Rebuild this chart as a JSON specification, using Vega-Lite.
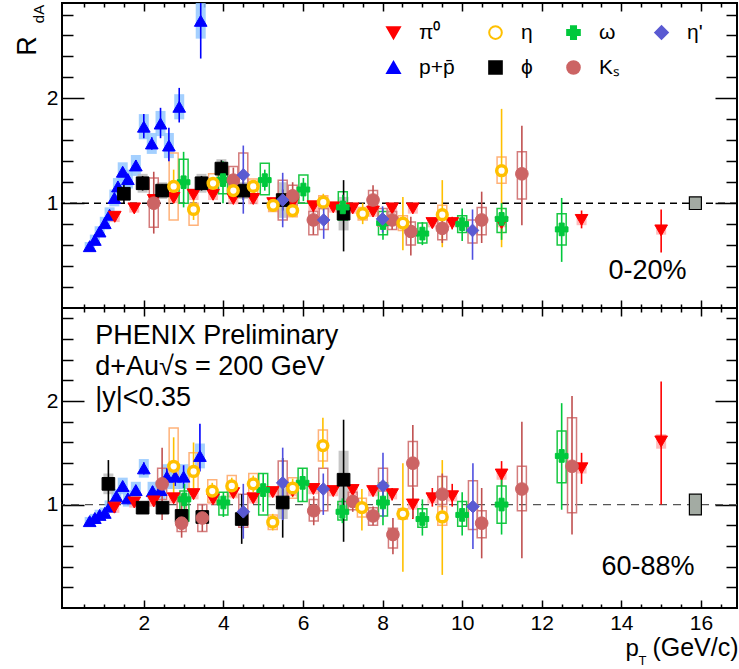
{
  "$schema": "https://vega.github.io/schema/vega-lite/v6.json",
  "padding": {"left": 0, "top": 1, "right": 0, "bottom": 0},
  "autosize": {"type": "pad"},
  "spacing": 0,
  "bounds": "flush",
  "config": {
    "view": {"stroke": "#000000", "strokeWidth": 2},
    "axis": {"grid": false, "domain": false, "labelFont": "Liberation Sans", "titleFont": "Liberation Sans", "labelFontSize": 21, "titleFontWeight": "normal", "tickColor": "#000000", "tickWidth": 1.5, "labelColor": "#000000", "titleColor": "#000000", "labelFlush": false, "labelOverlap": false},
    "text": {"font": "Liberation Sans", "color": "#000000"}
  },
  "resolve": {"scale": {"fill": "independent", "stroke": "independent", "shape": "independent"}, "legend": {"fill": "independent", "stroke": "independent", "shape": "independent"}},
  "datasets": {
    "normtop": [{"x": 15.86, "lo": 0.94, "hi": 1.06}],
    "normbot": [{"x": 15.86, "lo": 0.9, "hi": 1.1}],
    "top": [
      {"sp": "p+p\u0304", "x": 0.64, "y": 0.59, "lo": 0.57, "hi": 0.61, "slo": 0.55, "shi": 0.63},
      {"sp": "p+p\u0304", "x": 0.77, "y": 0.65, "lo": 0.63, "hi": 0.67, "slo": 0.6, "shi": 0.7},
      {"sp": "p+p\u0304", "x": 0.89, "y": 0.73, "lo": 0.71, "hi": 0.75, "slo": 0.68, "shi": 0.78},
      {"sp": "p+p\u0304", "x": 1.02, "y": 0.81, "lo": 0.79, "hi": 0.83, "slo": 0.75, "shi": 0.87},
      {"sp": "p+p\u0304", "x": 1.14, "y": 0.89, "lo": 0.87, "hi": 0.91, "slo": 0.82, "shi": 0.96},
      {"sp": "p+p\u0304", "x": 1.26, "y": 1.05, "lo": 1.02, "hi": 1.08, "slo": 0.97, "shi": 1.13},
      {"sp": "p+p\u0304", "x": 1.35, "y": 1.16, "lo": 1.13, "hi": 1.19, "slo": 1.08, "shi": 1.24},
      {"sp": "p+p\u0304", "x": 1.47, "y": 1.3, "lo": 1.27, "hi": 1.33, "slo": 1.21, "shi": 1.39},
      {"sp": "p+p\u0304", "x": 1.6, "y": 1.23, "lo": 1.19, "hi": 1.27, "slo": 1.14, "shi": 1.32},
      {"sp": "p+p\u0304", "x": 1.8, "y": 1.36, "lo": 1.31, "hi": 1.41, "slo": 1.26, "shi": 1.46},
      {"sp": "p+p\u0304", "x": 2.0, "y": 1.73, "lo": 1.62, "hi": 1.85, "slo": 1.61, "shi": 1.85},
      {"sp": "p+p\u0304", "x": 2.2, "y": 1.57, "lo": 1.51, "hi": 1.63, "slo": 1.47, "shi": 1.67},
      {"sp": "p+p\u0304", "x": 2.42, "y": 1.76, "lo": 1.62, "hi": 1.91, "slo": 1.64, "shi": 1.88},
      {"sp": "p+p\u0304", "x": 2.63, "y": 1.55, "lo": 1.4, "hi": 1.72, "slo": 1.43, "shi": 1.67},
      {"sp": "p+p\u0304", "x": 2.89, "y": 1.92, "lo": 1.77, "hi": 2.1, "slo": 1.8, "shi": 2.04},
      {"sp": "p+p\u0304", "x": 3.43, "y": 2.74, "lo": 2.38, "hi": 3.1, "slo": 2.57, "shi": 2.93},
      {"sp": "\u03c0\u2070", "x": 1.27, "y": 0.87, "lo": 0.83, "hi": 0.91, "slo": 0.82, "shi": 0.92},
      {"sp": "\u03c0\u2070", "x": 1.76, "y": 0.95, "lo": 0.94, "hi": 0.96, "slo": 0.91, "shi": 0.99},
      {"sp": "\u03c0\u2070", "x": 2.25, "y": 1.03, "lo": 1.02, "hi": 1.04, "slo": 0.98, "shi": 1.08},
      {"sp": "\u03c0\u2070", "x": 2.75, "y": 1.05, "lo": 1.04, "hi": 1.06, "slo": 1.0, "shi": 1.1},
      {"sp": "\u03c0\u2070", "x": 3.25, "y": 1.08, "lo": 1.07, "hi": 1.09, "slo": 1.03, "shi": 1.13},
      {"sp": "\u03c0\u2070", "x": 3.74, "y": 1.08, "lo": 1.07, "hi": 1.09, "slo": 1.03, "shi": 1.13},
      {"sp": "\u03c0\u2070", "x": 4.25, "y": 1.04, "lo": 1.03, "hi": 1.05, "slo": 0.99, "shi": 1.09},
      {"sp": "\u03c0\u2070", "x": 4.75, "y": 1.04, "lo": 1.03, "hi": 1.05, "slo": 0.99, "shi": 1.09},
      {"sp": "\u03c0\u2070", "x": 5.25, "y": 1.0, "lo": 0.99, "hi": 1.01, "slo": 0.95, "shi": 1.05},
      {"sp": "\u03c0\u2070", "x": 5.74, "y": 1.0, "lo": 0.98, "hi": 1.02, "slo": 0.95, "shi": 1.05},
      {"sp": "\u03c0\u2070", "x": 6.26, "y": 0.97, "lo": 0.95, "hi": 0.99, "slo": 0.92, "shi": 1.02},
      {"sp": "\u03c0\u2070", "x": 6.76, "y": 0.96, "lo": 0.94, "hi": 0.98, "slo": 0.91, "shi": 1.01},
      {"sp": "\u03c0\u2070", "x": 7.25, "y": 0.95, "lo": 0.93, "hi": 0.97, "slo": 0.9, "shi": 1.0},
      {"sp": "\u03c0\u2070", "x": 7.76, "y": 0.92, "lo": 0.89, "hi": 0.95, "slo": 0.87, "shi": 0.97},
      {"sp": "\u03c0\u2070", "x": 8.24, "y": 0.95, "lo": 0.92, "hi": 0.98, "slo": 0.9, "shi": 1.0},
      {"sp": "\u03c0\u2070", "x": 8.76, "y": 0.95, "lo": 0.91, "hi": 0.99, "slo": 0.9, "shi": 1.0},
      {"sp": "\u03c0\u2070", "x": 9.25, "y": 0.81, "lo": 0.76, "hi": 0.86, "slo": 0.77, "shi": 0.85},
      {"sp": "\u03c0\u2070", "x": 9.75, "y": 0.81, "lo": 0.75, "hi": 0.87, "slo": 0.77, "shi": 0.85},
      {"sp": "\u03c0\u2070", "x": 10.99, "y": 0.81, "lo": 0.73, "hi": 0.89, "slo": 0.77, "shi": 0.85},
      {"sp": "\u03c0\u2070", "x": 13.0, "y": 0.84, "lo": 0.76, "hi": 0.93, "slo": 0.79, "shi": 0.89},
      {"sp": "\u03c0\u2070", "x": 15.0, "y": 0.74, "lo": 0.53, "hi": 0.94, "slo": 0.7, "shi": 0.78},
      {"sp": "\u03d5", "x": 1.5, "y": 1.09, "lo": 1.0, "hi": 1.18, "slo": 1.05, "shi": 1.13},
      {"sp": "\u03d5", "x": 1.97, "y": 1.19, "lo": 1.12, "hi": 1.26, "slo": 1.1, "shi": 1.28},
      {"sp": "\u03d5", "x": 2.46, "y": 1.12, "lo": 1.06, "hi": 1.18, "slo": 1.04, "shi": 1.2},
      {"sp": "\u03d5", "x": 3.45, "y": 1.19, "lo": 1.12, "hi": 1.26, "slo": 1.1, "shi": 1.28},
      {"sp": "\u03d5", "x": 3.95, "y": 1.33, "lo": 1.25, "hi": 1.41, "slo": 1.24, "shi": 1.42},
      {"sp": "\u03d5", "x": 4.5, "y": 1.12, "lo": 1.03, "hi": 1.21, "slo": 1.04, "shi": 1.2},
      {"sp": "\u03d5", "x": 5.49, "y": 1.03, "lo": 0.93, "hi": 1.13, "slo": 0.86, "shi": 1.2},
      {"sp": "\u03d5", "x": 7.02, "y": 0.9, "lo": 0.54, "hi": 1.22, "slo": 0.74, "shi": 1.06},
      {"sp": "\u03b7", "x": 2.75, "y": 1.16, "lo": 1.0, "hi": 1.32, "slo": 0.84, "shi": 1.48},
      {"sp": "\u03b7", "x": 3.25, "y": 0.94, "lo": 0.84, "hi": 1.04, "slo": 0.79, "shi": 1.0},
      {"sp": "\u03b7", "x": 3.74, "y": 1.19, "lo": 1.13, "hi": 1.25, "slo": 1.1, "shi": 1.28},
      {"sp": "\u03b7", "x": 4.25, "y": 1.12, "lo": 1.07, "hi": 1.17, "slo": 1.05, "shi": 1.19},
      {"sp": "\u03b7", "x": 4.75, "y": 1.16, "lo": 1.11, "hi": 1.21, "slo": 1.09, "shi": 1.23},
      {"sp": "\u03b7", "x": 5.25, "y": 0.98, "lo": 0.92, "hi": 1.04, "slo": 0.92, "shi": 1.04},
      {"sp": "\u03b7", "x": 5.74, "y": 0.93, "lo": 0.87, "hi": 0.99, "slo": 0.87, "shi": 0.99},
      {"sp": "\u03b7", "x": 6.51, "y": 1.01, "lo": 0.93, "hi": 1.09, "slo": 0.95, "shi": 1.07},
      {"sp": "\u03b7", "x": 7.5, "y": 0.9, "lo": 0.8, "hi": 1.0, "slo": 0.84, "shi": 0.96},
      {"sp": "\u03b7", "x": 8.51, "y": 0.81, "lo": 0.55, "hi": 1.06, "slo": 0.74, "shi": 0.88},
      {"sp": "\u03b7", "x": 9.5, "y": 0.89, "lo": 0.58, "hi": 1.22, "slo": 0.8, "shi": 0.98},
      {"sp": "\u03b7", "x": 10.99, "y": 1.31, "lo": 0.58, "hi": 1.9, "slo": 1.19, "shi": 1.44},
      {"sp": "\u03c9", "x": 3.0, "y": 1.2, "lo": 0.96, "hi": 1.49, "slo": 1.0, "shi": 1.42},
      {"sp": "\u03c9", "x": 3.99, "y": 1.22, "lo": 1.0, "hi": 1.4, "slo": 1.09, "shi": 1.35},
      {"sp": "\u03c9", "x": 5.04, "y": 1.22, "lo": 1.12, "hi": 1.32, "slo": 1.08, "shi": 1.38},
      {"sp": "\u03c9", "x": 6.01, "y": 1.13, "lo": 1.02, "hi": 1.24, "slo": 1.0, "shi": 1.27},
      {"sp": "\u03c9", "x": 7.0, "y": 0.96, "lo": 0.84, "hi": 1.08, "slo": 0.84, "shi": 1.11},
      {"sp": "\u03c9", "x": 8.01, "y": 0.81, "lo": 0.65, "hi": 0.95, "slo": 0.7, "shi": 0.92},
      {"sp": "\u03c9", "x": 9.0, "y": 0.71, "lo": 0.6, "hi": 0.82, "slo": 0.62, "shi": 0.81},
      {"sp": "\u03c9", "x": 10.0, "y": 0.8, "lo": 0.64, "hi": 0.95, "slo": 0.72, "shi": 0.88},
      {"sp": "\u03c9", "x": 10.99, "y": 0.85, "lo": 0.65, "hi": 1.0, "slo": 0.72, "shi": 0.95},
      {"sp": "\u03c9", "x": 12.5, "y": 0.75, "lo": 0.44, "hi": 1.05, "slo": 0.6, "shi": 0.9},
      {"sp": "K\u209b", "x": 2.25, "y": 1.0, "lo": 0.71, "hi": 1.3, "slo": 0.77, "shi": 1.24},
      {"sp": "K\u209b", "x": 4.25, "y": 1.22, "lo": 1.1, "hi": 1.34, "slo": 1.12, "shi": 1.35},
      {"sp": "K\u209b", "x": 5.74, "y": 1.07, "lo": 0.95, "hi": 1.2, "slo": 0.98, "shi": 1.17},
      {"sp": "K\u209b", "x": 6.26, "y": 0.84, "lo": 0.7, "hi": 0.95, "slo": 0.7, "shi": 0.92},
      {"sp": "K\u209b", "x": 7.76, "y": 1.03, "lo": 0.92, "hi": 1.17, "slo": 0.95, "shi": 1.12},
      {"sp": "K\u209b", "x": 8.24, "y": 0.84, "lo": 0.75, "hi": 0.95, "slo": 0.75, "shi": 0.92},
      {"sp": "K\u209b", "x": 8.71, "y": 0.73, "lo": 0.5, "hi": 0.87, "slo": 0.6, "shi": 0.82},
      {"sp": "K\u209b", "x": 9.5, "y": 0.76, "lo": 0.62, "hi": 0.9, "slo": 0.65, "shi": 0.86},
      {"sp": "K\u209b", "x": 10.49, "y": 0.84, "lo": 0.62, "hi": 1.11, "slo": 0.7, "shi": 0.96},
      {"sp": "K\u209b", "x": 11.5, "y": 1.28, "lo": 0.79, "hi": 1.74, "slo": 1.04, "shi": 1.49},
      {"sp": "\u03b7'", "x": 4.5, "y": 1.27, "lo": 0.9, "hi": 1.55, "slo": 1.12, "shi": 1.48},
      {"sp": "\u03b7'", "x": 5.49, "y": 1.03, "lo": 0.77, "hi": 1.29, "slo": 0.84, "shi": 1.22},
      {"sp": "\u03b7'", "x": 6.52, "y": 0.84, "lo": 0.66, "hi": 0.97, "slo": 0.75, "shi": 0.95},
      {"sp": "\u03b7'", "x": 8.0, "y": 0.85, "lo": 0.72, "hi": 0.97, "slo": 0.78, "shi": 0.95},
      {"sp": "\u03b7'", "x": 10.26, "y": 0.74, "lo": 0.46, "hi": 0.94, "slo": 0.62, "shi": 0.84}
    ],
    "bot": [
      {"sp": "p+p\u0304", "x": 0.64, "y": 0.84, "lo": 0.83, "hi": 0.85, "slo": 0.8, "shi": 0.88},
      {"sp": "p+p\u0304", "x": 0.77, "y": 0.87, "lo": 0.86, "hi": 0.88, "slo": 0.83, "shi": 0.91},
      {"sp": "p+p\u0304", "x": 0.89, "y": 0.9, "lo": 0.89, "hi": 0.91, "slo": 0.85, "shi": 0.95},
      {"sp": "p+p\u0304", "x": 1.02, "y": 0.92, "lo": 0.91, "hi": 0.93, "slo": 0.87, "shi": 0.97},
      {"sp": "p+p\u0304", "x": 1.14, "y": 0.98, "lo": 0.97, "hi": 0.99, "slo": 0.92, "shi": 1.04},
      {"sp": "p+p\u0304", "x": 1.31, "y": 1.08, "lo": 1.06, "hi": 1.1, "slo": 1.01, "shi": 1.15},
      {"sp": "p+p\u0304", "x": 1.47, "y": 1.18, "lo": 1.15, "hi": 1.21, "slo": 1.1, "shi": 1.26},
      {"sp": "p+p\u0304", "x": 1.6, "y": 1.06, "lo": 1.03, "hi": 1.09, "slo": 0.98, "shi": 1.14},
      {"sp": "p+p\u0304", "x": 1.8, "y": 1.14, "lo": 1.1, "hi": 1.18, "slo": 1.06, "shi": 1.22},
      {"sp": "p+p\u0304", "x": 2.0, "y": 1.35, "lo": 1.29, "hi": 1.41, "slo": 1.26, "shi": 1.44},
      {"sp": "p+p\u0304", "x": 2.22, "y": 1.13, "lo": 1.08, "hi": 1.18, "slo": 1.04, "shi": 1.22},
      {"sp": "p+p\u0304", "x": 2.42, "y": 1.14, "lo": 1.08, "hi": 1.2, "slo": 1.05, "shi": 1.23},
      {"sp": "p+p\u0304", "x": 2.58, "y": 1.27, "lo": 1.19, "hi": 1.35, "slo": 1.15, "shi": 1.39},
      {"sp": "p+p\u0304", "x": 2.79, "y": 1.27, "lo": 1.18, "hi": 1.36, "slo": 1.15, "shi": 1.39},
      {"sp": "p+p\u0304", "x": 3.0, "y": 1.27, "lo": 1.16, "hi": 1.38, "slo": 1.15, "shi": 1.39},
      {"sp": "p+p\u0304", "x": 3.41, "y": 1.47, "lo": 1.32, "hi": 1.78, "slo": 1.35, "shi": 1.59},
      {"sp": "\u03c0\u2070", "x": 1.26, "y": 0.97, "lo": 0.96, "hi": 0.98, "slo": 0.92, "shi": 1.02},
      {"sp": "\u03c0\u2070", "x": 1.76, "y": 1.02, "lo": 1.01, "hi": 1.03, "slo": 0.97, "shi": 1.07},
      {"sp": "\u03c0\u2070", "x": 2.25, "y": 1.03, "lo": 1.02, "hi": 1.04, "slo": 0.98, "shi": 1.08},
      {"sp": "\u03c0\u2070", "x": 2.75, "y": 1.06, "lo": 1.05, "hi": 1.07, "slo": 1.01, "shi": 1.11},
      {"sp": "\u03c0\u2070", "x": 3.25, "y": 1.1, "lo": 1.09, "hi": 1.11, "slo": 1.05, "shi": 1.15},
      {"sp": "\u03c0\u2070", "x": 3.74, "y": 1.05, "lo": 1.04, "hi": 1.06, "slo": 1.0, "shi": 1.1},
      {"sp": "\u03c0\u2070", "x": 4.25, "y": 1.11, "lo": 1.09, "hi": 1.13, "slo": 1.06, "shi": 1.16},
      {"sp": "\u03c0\u2070", "x": 4.75, "y": 1.06, "lo": 1.04, "hi": 1.08, "slo": 1.01, "shi": 1.11},
      {"sp": "\u03c0\u2070", "x": 5.24, "y": 1.12, "lo": 1.1, "hi": 1.14, "slo": 1.07, "shi": 1.17},
      {"sp": "\u03c0\u2070", "x": 5.74, "y": 1.13, "lo": 1.11, "hi": 1.15, "slo": 1.08, "shi": 1.18},
      {"sp": "\u03c0\u2070", "x": 6.26, "y": 1.15, "lo": 1.12, "hi": 1.18, "slo": 1.1, "shi": 1.2},
      {"sp": "\u03c0\u2070", "x": 6.76, "y": 1.13, "lo": 1.1, "hi": 1.16, "slo": 1.08, "shi": 1.18},
      {"sp": "\u03c0\u2070", "x": 7.25, "y": 1.14, "lo": 1.1, "hi": 1.18, "slo": 1.09, "shi": 1.19},
      {"sp": "\u03c0\u2070", "x": 7.76, "y": 1.13, "lo": 1.08, "hi": 1.18, "slo": 1.08, "shi": 1.18},
      {"sp": "\u03c0\u2070", "x": 8.24, "y": 1.1, "lo": 1.04, "hi": 1.16, "slo": 1.05, "shi": 1.15},
      {"sp": "\u03c0\u2070", "x": 8.76, "y": 1.0, "lo": 0.86, "hi": 1.16, "slo": 0.95, "shi": 1.05},
      {"sp": "\u03c0\u2070", "x": 9.25, "y": 1.06, "lo": 0.98, "hi": 1.16, "slo": 1.01, "shi": 1.11},
      {"sp": "\u03c0\u2070", "x": 9.75, "y": 1.08, "lo": 0.98, "hi": 1.2, "slo": 1.03, "shi": 1.13},
      {"sp": "\u03c0\u2070", "x": 10.99, "y": 1.29, "lo": 1.18, "hi": 1.42, "slo": 1.24, "shi": 1.34},
      {"sp": "\u03c0\u2070", "x": 13.0, "y": 1.35, "lo": 1.2, "hi": 1.5, "slo": 1.3, "shi": 1.4},
      {"sp": "\u03c0\u2070", "x": 15.0, "y": 1.61, "lo": 1.0, "hi": 2.19, "slo": 1.54, "shi": 1.68},
      {"sp": "\u03d5", "x": 1.11, "y": 1.2, "lo": 0.98, "hi": 1.43, "slo": 1.1, "shi": 1.3},
      {"sp": "\u03d5", "x": 1.97, "y": 0.97, "lo": 0.93, "hi": 1.01, "slo": 0.92, "shi": 1.02},
      {"sp": "\u03d5", "x": 2.47, "y": 0.97, "lo": 0.92, "hi": 1.02, "slo": 0.92, "shi": 1.02},
      {"sp": "\u03d5", "x": 2.95, "y": 0.89, "lo": 0.83, "hi": 0.95, "slo": 0.83, "shi": 0.95},
      {"sp": "\u03d5", "x": 3.47, "y": 0.88, "lo": 0.82, "hi": 0.94, "slo": 0.82, "shi": 0.94},
      {"sp": "\u03d5", "x": 4.46, "y": 0.86, "lo": 0.62, "hi": 1.1, "slo": 0.8, "shi": 0.92},
      {"sp": "\u03d5", "x": 5.49, "y": 1.02, "lo": 0.68, "hi": 1.45, "slo": 0.86, "shi": 1.18},
      {"sp": "\u03d5", "x": 7.02, "y": 1.24, "lo": 0.64, "hi": 1.82, "slo": 0.95, "shi": 1.52},
      {"sp": "\u03b7", "x": 2.75, "y": 1.37, "lo": 1.1, "hi": 1.65, "slo": 1.26, "shi": 1.74},
      {"sp": "\u03b7", "x": 3.25, "y": 1.32, "lo": 1.1, "hi": 1.6, "slo": 1.15, "shi": 1.5},
      {"sp": "\u03b7", "x": 3.72, "y": 1.13, "lo": 1.05, "hi": 1.21, "slo": 1.02, "shi": 1.24},
      {"sp": "\u03b7", "x": 4.21, "y": 1.18, "lo": 1.1, "hi": 1.26, "slo": 1.08, "shi": 1.28},
      {"sp": "\u03b7", "x": 4.75, "y": 1.2, "lo": 1.12, "hi": 1.28, "slo": 1.1, "shi": 1.3},
      {"sp": "\u03b7", "x": 5.24, "y": 0.83, "lo": 0.75, "hi": 0.91, "slo": 0.76, "shi": 0.9},
      {"sp": "\u03b7", "x": 5.74, "y": 1.16, "lo": 1.07, "hi": 1.25, "slo": 1.06, "shi": 1.26},
      {"sp": "\u03b7", "x": 6.5, "y": 1.57, "lo": 1.35, "hi": 1.84, "slo": 1.42, "shi": 1.72},
      {"sp": "\u03b7", "x": 7.48, "y": 0.97, "lo": 0.75, "hi": 1.15, "slo": 0.88, "shi": 1.06},
      {"sp": "\u03b7", "x": 8.51, "y": 0.91, "lo": 0.35, "hi": 1.4, "slo": 0.86, "shi": 0.96},
      {"sp": "\u03b7", "x": 9.5, "y": 0.88, "lo": 0.32, "hi": 1.43, "slo": 0.8, "shi": 0.98},
      {"sp": "\u03c9", "x": 3.02, "y": 1.05, "lo": 0.86, "hi": 1.2, "slo": 0.84, "shi": 1.13},
      {"sp": "\u03c9", "x": 4.0, "y": 1.02, "lo": 0.88, "hi": 1.12, "slo": 0.9, "shi": 1.12},
      {"sp": "\u03c9", "x": 5.0, "y": 1.14, "lo": 0.93, "hi": 1.3, "slo": 0.9, "shi": 1.3},
      {"sp": "\u03c9", "x": 5.99, "y": 1.21, "lo": 1.03, "hi": 1.35, "slo": 1.03, "shi": 1.35},
      {"sp": "\u03c9", "x": 6.99, "y": 0.93, "lo": 0.82, "hi": 1.06, "slo": 0.85, "shi": 1.03},
      {"sp": "\u03c9", "x": 8.01, "y": 1.02, "lo": 0.8, "hi": 1.22, "slo": 0.89, "shi": 1.21},
      {"sp": "\u03c9", "x": 9.0, "y": 0.86, "lo": 0.7, "hi": 1.05, "slo": 0.78, "shi": 0.96},
      {"sp": "\u03c9", "x": 10.0, "y": 0.9, "lo": 0.7, "hi": 1.12, "slo": 0.79, "shi": 1.03},
      {"sp": "\u03c9", "x": 10.99, "y": 1.0, "lo": 0.71, "hi": 1.32, "slo": 0.82, "shi": 1.18},
      {"sp": "\u03c9", "x": 12.5, "y": 1.47, "lo": 0.95, "hi": 1.98, "slo": 1.21, "shi": 1.71},
      {"sp": "K\u209b", "x": 2.46, "y": 1.2, "lo": 0.85, "hi": 1.55, "slo": 1.05, "shi": 1.35},
      {"sp": "K\u209b", "x": 2.95, "y": 0.82, "lo": 0.68, "hi": 1.1, "slo": 0.74, "shi": 1.06},
      {"sp": "K\u209b", "x": 3.47, "y": 0.87, "lo": 0.74, "hi": 1.0, "slo": 0.74, "shi": 1.0},
      {"sp": "K\u209b", "x": 6.27, "y": 0.94, "lo": 0.8, "hi": 1.08, "slo": 0.84, "shi": 1.05},
      {"sp": "K\u209b", "x": 7.25, "y": 1.03, "lo": 0.93, "hi": 1.13, "slo": 0.95, "shi": 1.12},
      {"sp": "K\u209b", "x": 7.76, "y": 0.89, "lo": 0.8, "hi": 0.98, "slo": 0.8, "shi": 0.97},
      {"sp": "K\u209b", "x": 8.26, "y": 0.71, "lo": 0.52, "hi": 0.87, "slo": 0.58, "shi": 0.77},
      {"sp": "K\u209b", "x": 8.76, "y": 1.4, "lo": 0.87, "hi": 1.77, "slo": 1.18, "shi": 1.61},
      {"sp": "K\u209b", "x": 9.5, "y": 1.1, "lo": 0.95, "hi": 1.3, "slo": 1.0, "shi": 1.27},
      {"sp": "K\u209b", "x": 10.49, "y": 0.82, "lo": 0.48, "hi": 1.16, "slo": 0.68, "shi": 0.94},
      {"sp": "K\u209b", "x": 11.5, "y": 1.15, "lo": 0.48, "hi": 1.8, "slo": 0.94, "shi": 1.37},
      {"sp": "K\u209b", "x": 12.76, "y": 1.37, "lo": 0.71, "hi": 2.05, "slo": 0.92, "shi": 1.84},
      {"sp": "\u03b7'", "x": 4.5, "y": 0.93, "lo": 0.67, "hi": 1.2, "slo": 0.78, "shi": 1.1},
      {"sp": "\u03b7'", "x": 5.49, "y": 1.21, "lo": 0.85, "hi": 1.55, "slo": 1.02, "shi": 1.42},
      {"sp": "\u03b7'", "x": 6.51, "y": 1.15, "lo": 0.9, "hi": 1.3, "slo": 0.94, "shi": 1.35},
      {"sp": "\u03b7'", "x": 8.01, "y": 1.18, "lo": 0.88, "hi": 1.5, "slo": 1.13, "shi": 1.35},
      {"sp": "\u03b7'", "x": 10.27, "y": 0.98, "lo": 0.57, "hi": 1.4, "slo": 0.76, "shi": 1.23}
    ]
  },
  "vconcat": [
    {
      "width": 675,
      "height": 305,
      "resolve": {"scale": {"fill": "independent", "stroke": "independent", "shape": "independent"}, "axis": {"x": "independent", "y": "independent"}},
      "layer": [
        {
          "data": {"values": [{}]},
          "mark": {"type": "rule", "strokeDash": [7, 5], "strokeWidth": 1.6, "color": "#000000"},
          "encoding": {"y": {"datum": 1, "type": "quantitative", "axis": null}}
        },
        {
          "data": {"name": "normtop"},
          "mark": {"type": "bar", "width": 12, "fill": "#a3aba3", "stroke": "#000000", "strokeWidth": 1.2},
          "encoding": {
            "x": {"field": "x", "type": "quantitative", "scale": {"domain": [0.07, 16.78], "nice": false, "zero": false}, "axis": {"orient": "bottom", "values": [2, 4, 6, 8, 10, 12, 14, 16], "tickSize": -8, "labels": false, "title": null}},
            "y": {"field": "lo", "type": "quantitative", "scale": {"domain": [0, 2.91], "nice": false, "zero": false}, "axis": {"orient": "left", "values": [1, 2], "tickSize": -22, "labels": false, "title": null}},
            "y2": {"field": "hi"}
          }
        },
        {
          "data": {"name": "top"},
          "transform": [{"filter": {"field": "sp", "oneOf": ["\u03c0\u2070", "p+p\u0304", "\u03d5"]}}],
          "mark": {"type": "bar", "width": 10, "clip": true, "opacity": 0.85},
          "encoding": {
            "x": {"field": "x", "type": "quantitative", "scale": {"domain": [0.07, 16.78], "nice": false, "zero": false}, "axis": {"orient": "bottom", "values": [0.5, 1, 1.5, 2.5, 3, 3.5, 4.5, 5, 5.5, 6.5, 7, 7.5, 8.5, 9, 9.5, 10.5, 11, 11.5, 12.5, 13, 13.5, 14.5, 15, 15.5, 16.5], "tickSize": -4, "labels": false, "title": null}},
            "y": {"field": "slo", "type": "quantitative", "scale": {"domain": [0, 2.91], "nice": false, "zero": false}, "axis": {"orient": "left", "values": [0.2, 0.4, 0.6, 0.8, 1.2, 1.4, 1.6, 1.8, 2.2, 2.4, 2.6, 2.8], "tickSize": -11, "labels": false, "title": null}},
            "y2": {"field": "shi"},
            "fill": {"field": "sp", "type": "nominal", "scale": {"domain": ["\u03c0\u2070", "p+p\u0304", "\u03d5"], "range": ["#ffb0b0", "#94c8ff", "#bdbdbd"]}, "legend": null}
          }
        },
        {
          "data": {"name": "top"},
          "transform": [{"filter": {"field": "sp", "oneOf": ["\u03b7", "\u03c9", "K\u209b", "\u03b7'"]}}],
          "mark": {"type": "bar", "width": 9, "clip": true, "fillOpacity": 0, "strokeWidth": 1.5},
          "encoding": {
            "x": {"field": "x", "type": "quantitative", "scale": {"domain": [0.07, 16.78], "nice": false, "zero": false}, "axis": {"orient": "top", "values": [2, 4, 6, 8, 10, 12, 14, 16], "tickSize": -8, "labels": false, "title": null}},
            "y": {"field": "slo", "type": "quantitative", "scale": {"domain": [0, 2.91], "nice": false, "zero": false}, "axis": {"orient": "right", "values": [1, 2], "tickSize": -22, "labels": false, "title": null}},
            "y2": {"field": "shi"},
            "stroke": {"field": "sp", "type": "nominal", "scale": {"domain": ["\u03b7", "\u03c9", "K\u209b", "\u03b7'"], "range": ["#ffb27a", "#19c843", "#d47c7c", "#d47c7c"]}, "legend": null}
          }
        },
        {
          "data": {"name": "top"},
          "mark": {"type": "rule", "clip": true, "strokeWidth": 1.6},
          "encoding": {
            "x": {"field": "x", "type": "quantitative", "scale": {"domain": [0.07, 16.78], "nice": false, "zero": false}, "axis": {"orient": "top", "values": [0.5, 1, 1.5, 2.5, 3, 3.5, 4.5, 5, 5.5, 6.5, 7, 7.5, 8.5, 9, 9.5, 10.5, 11, 11.5, 12.5, 13, 13.5, 14.5, 15, 15.5, 16.5], "tickSize": -4, "labels": false, "title": null}},
            "y": {"field": "lo", "type": "quantitative", "scale": {"domain": [0, 2.91], "nice": false, "zero": false}, "axis": {"orient": "right", "values": [0.2, 0.4, 0.6, 0.8, 1.2, 1.4, 1.6, 1.8, 2.2, 2.4, 2.6, 2.8], "tickSize": -11, "labels": false, "title": null}},
            "y2": {"field": "hi"},
            "stroke": {"field": "sp", "type": "nominal", "scale": {"domain": ["\u03c0\u2070", "\u03b7", "\u03c9", "\u03b7'", "p+p\u0304", "\u03d5", "K\u209b"], "range": ["#ff0000", "#ffc000", "#00c83c", "#5050e0", "#0000ff", "#000000", "#c05050"]}, "legend": null}
          }
        },
        {
          "data": {"name": "top"},
          "transform": [{"filter": {"field": "sp", "oneOf": ["\u03c0\u2070", "p+p\u0304", "\u03d5", "\u03c9", "K\u209b", "\u03b7'"]}}],
          "mark": {"type": "point", "size": 160, "strokeWidth": 1, "opacity": 1, "clip": true},
          "encoding": {
            "x": {"field": "x", "type": "quantitative", "scale": {"domain": [0.07, 16.78], "nice": false, "zero": false}, "axis": null},
            "y": {"field": "y", "type": "quantitative", "scale": {"domain": [0, 2.91], "nice": false, "zero": false}, "axis": {"orient": "left", "values": [1, 2], "ticks": false, "tickSize": 0, "labelPadding": 4, "format": "d", "title": null}},
            "fill": {"field": "sp", "type": "nominal", "scale": {"domain": ["\u03c0\u2070", "p+p\u0304", "\u03b7", "\u03d5", "\u03c9", "K\u209b", "\u03b7'"], "range": ["#ff0000", "#0000ff", "#ffffff", "#000000", "#00c83c", "#cc6464", "#5a5ad2"]}, "legend": {"title": null, "orient": "none", "legendX": 321, "legendY": 19, "columns": 4, "symbolSize": 160, "symbolStrokeWidth": 2, "labelFontSize": 21, "labelFont": "Liberation Sans", "labelColor": "#000000", "columnPadding": 30, "rowPadding": 13, "labelOffset": 15, "padding": 0, "symbolOpacity": 1}},
            "stroke": {"field": "sp", "type": "nominal", "scale": {"domain": ["\u03c0\u2070", "p+p\u0304", "\u03b7", "\u03d5", "\u03c9", "K\u209b", "\u03b7'"], "range": ["#ff0000", "#0000ff", "#ffc000", "#000000", "#00c83c", "#cc6464", "#5a5ad2"]}, "legend": {"title": null, "orient": "none", "legendX": 321, "legendY": 19, "columns": 4, "symbolSize": 160, "symbolStrokeWidth": 2, "labelFontSize": 21, "labelFont": "Liberation Sans", "labelColor": "#000000", "columnPadding": 30, "rowPadding": 13, "labelOffset": 15, "padding": 0, "symbolOpacity": 1}},
            "shape": {"field": "sp", "type": "nominal", "scale": {"domain": ["\u03c0\u2070", "p+p\u0304", "\u03b7", "\u03d5", "\u03c9", "K\u209b", "\u03b7'"], "range": ["triangle-down", "triangle-up", "circle", "square", "cross", "circle", "diamond"]}, "legend": {"title": null, "orient": "none", "legendX": 321, "legendY": 19, "columns": 4, "symbolSize": 160, "symbolStrokeWidth": 2, "labelFontSize": 21, "labelFont": "Liberation Sans", "labelColor": "#000000", "columnPadding": 30, "rowPadding": 13, "labelOffset": 15, "padding": 0, "symbolOpacity": 1}}
          }
        },
        {
          "data": {"name": "top"},
          "transform": [{"filter": {"field": "sp", "equal": "\u03b7"}}],
          "mark": {"type": "point", "shape": "circle", "size": 95, "strokeWidth": 3.5, "fill": "#ffffff", "stroke": "#ffc000", "opacity": 1, "clip": true},
          "encoding": {
            "x": {"field": "x", "type": "quantitative", "scale": {"domain": [0.07, 16.78], "nice": false, "zero": false}, "axis": null},
            "y": {"field": "y", "type": "quantitative", "scale": {"domain": [0, 2.91], "nice": false, "zero": false}, "axis": null}
          }
        },
        {
          "data": {"values": [{}]},
          "mark": {"type": "text", "text": "0-20%", "fontSize": 27, "align": "right", "baseline": "alphabetic"},
          "encoding": {
            "x": {"datum": 15.64, "type": "quantitative", "axis": null},
            "y": {"datum": 0.28, "type": "quantitative", "axis": {"orient": "left", "offset": 61, "domain": true, "domainOpacity": 0, "ticks": false, "labels": false, "title": null}}
          }
        },
        {
          "data": {"values": [{}]},
          "mark": {"type": "text", "text": "R", "fontSize": 27, "angle": 270, "align": "center", "baseline": "alphabetic"},
          "encoding": {
            "x": {"datum": -0.7, "type": "quantitative", "axis": null},
            "y": {"datum": 2.5, "type": "quantitative", "axis": null}
          }
        },
        {
          "data": {"values": [{}]},
          "mark": {"type": "text", "text": "dA", "fontSize": 15, "angle": 270, "align": "center", "baseline": "alphabetic"},
          "encoding": {
            "x": {"datum": -0.5, "type": "quantitative", "axis": null},
            "y": {"datum": 2.805, "type": "quantitative", "axis": null}
          }
        }
      ]
    },
    {
      "width": 675,
      "height": 300,
      "resolve": {"scale": {"fill": "independent", "stroke": "independent", "shape": "independent"}, "axis": {"x": "independent", "y": "independent"}},
      "layer": [
        {
          "data": {"values": [{}]},
          "mark": {"type": "rule", "strokeDash": [8, 6], "strokeWidth": 1.3, "color": "#555555"},
          "encoding": {"y": {"datum": 1, "type": "quantitative", "axis": null}}
        },
        {
          "data": {"name": "normbot"},
          "mark": {"type": "bar", "width": 12, "fill": "#a3aba3", "stroke": "#000000", "strokeWidth": 1.2},
          "encoding": {
            "x": {"field": "x", "type": "quantitative", "scale": {"domain": [0.07, 16.78], "nice": false, "zero": false}, "axis": {"orient": "bottom", "values": [2, 4, 6, 8, 10, 12, 14, 16], "tickSize": -8, "labels": false, "title": "p", "titleFontSize": 24, "titleX": 563, "titleY": 47, "titleAlign": "left", "titleBaseline": "alphabetic", "titleAngle": 0}},
            "y": {"field": "lo", "type": "quantitative", "scale": {"domain": [0, 2.9], "nice": false, "zero": false}, "axis": {"orient": "left", "values": [1, 2], "tickSize": -22, "labels": false, "title": null}},
            "y2": {"field": "hi"}
          }
        },
        {
          "data": {"name": "bot"},
          "transform": [{"filter": {"field": "sp", "oneOf": ["\u03c0\u2070", "p+p\u0304", "\u03d5"]}}],
          "mark": {"type": "bar", "width": 10, "clip": true, "opacity": 0.85},
          "encoding": {
            "x": {"field": "x", "type": "quantitative", "scale": {"domain": [0.07, 16.78], "nice": false, "zero": false}, "axis": {"orient": "bottom", "values": [0.5, 1, 1.5, 2.5, 3, 3.5, 4.5, 5, 5.5, 6.5, 7, 7.5, 8.5, 9, 9.5, 10.5, 11, 11.5, 12.5, 13, 13.5, 14.5, 15, 15.5, 16.5], "tickSize": -4, "labels": false, "title": "T", "titleFontSize": 13, "titleX": 576, "titleY": 56, "titleAlign": "left", "titleBaseline": "alphabetic", "titleAngle": 0}},
            "y": {"field": "slo", "type": "quantitative", "scale": {"domain": [0, 2.9], "nice": false, "zero": false}, "axis": {"orient": "left", "values": [0.2, 0.4, 0.6, 0.8, 1.2, 1.4, 1.6, 1.8, 2.2, 2.4, 2.6, 2.8], "tickSize": -11, "labels": false, "title": null}},
            "y2": {"field": "shi"},
            "fill": {"field": "sp", "type": "nominal", "scale": {"domain": ["\u03c0\u2070", "p+p\u0304", "\u03d5"], "range": ["#ffb0b0", "#94c8ff", "#bdbdbd"]}, "legend": null}
          }
        },
        {
          "data": {"name": "bot"},
          "transform": [{"filter": {"field": "sp", "oneOf": ["\u03b7", "\u03c9", "K\u209b", "\u03b7'"]}}],
          "mark": {"type": "bar", "width": 9, "clip": true, "fillOpacity": 0, "strokeWidth": 1.5},
          "encoding": {
            "x": {"field": "x", "type": "quantitative", "scale": {"domain": [0.07, 16.78], "nice": false, "zero": false}, "axis": {"orient": "top", "values": [2, 4, 6, 8, 10, 12, 14, 16], "tickSize": -8, "labels": false, "title": null}},
            "y": {"field": "slo", "type": "quantitative", "scale": {"domain": [0, 2.9], "nice": false, "zero": false}, "axis": {"orient": "right", "values": [1, 2], "tickSize": -22, "labels": false, "title": null}},
            "y2": {"field": "shi"},
            "stroke": {"field": "sp", "type": "nominal", "scale": {"domain": ["\u03b7", "\u03c9", "K\u209b", "\u03b7'"], "range": ["#ffb27a", "#19c843", "#d47c7c", "#d47c7c"]}, "legend": null}
          }
        },
        {
          "data": {"name": "bot"},
          "mark": {"type": "rule", "clip": true, "strokeWidth": 1.6},
          "encoding": {
            "x": {"field": "x", "type": "quantitative", "scale": {"domain": [0.07, 16.78], "nice": false, "zero": false}, "axis": {"orient": "top", "values": [0.5, 1, 1.5, 2.5, 3, 3.5, 4.5, 5, 5.5, 6.5, 7, 7.5, 8.5, 9, 9.5, 10.5, 11, 11.5, 12.5, 13, 13.5, 14.5, 15, 15.5, 16.5], "tickSize": -4, "labels": false, "title": null}},
            "y": {"field": "lo", "type": "quantitative", "scale": {"domain": [0, 2.9], "nice": false, "zero": false}, "axis": {"orient": "right", "values": [0.2, 0.4, 0.6, 0.8, 1.2, 1.4, 1.6, 1.8, 2.2, 2.4, 2.6, 2.8], "tickSize": -11, "labels": false, "title": null}},
            "y2": {"field": "hi"},
            "stroke": {"field": "sp", "type": "nominal", "scale": {"domain": ["\u03c0\u2070", "\u03b7", "\u03c9", "\u03b7'", "p+p\u0304", "\u03d5", "K\u209b"], "range": ["#ff0000", "#ffc000", "#00c83c", "#5050e0", "#0000ff", "#000000", "#c05050"]}, "legend": null}
          }
        },
        {
          "data": {"name": "bot"},
          "transform": [{"filter": {"field": "sp", "oneOf": ["\u03c0\u2070", "p+p\u0304", "\u03d5", "\u03c9", "K\u209b", "\u03b7'"]}}],
          "mark": {"type": "point", "size": 160, "strokeWidth": 1, "opacity": 1, "clip": true},
          "encoding": {
            "x": {"field": "x", "type": "quantitative", "scale": {"domain": [0.07, 16.78], "nice": false, "zero": false}, "axis": {"orient": "bottom", "values": [2, 4, 6, 8, 10, 12, 14, 16], "ticks": false, "tickSize": 0, "labelPadding": 4, "format": "d", "title": "(GeV/c)", "titleFontSize": 25, "titleX": 676, "titleY": 47, "titleAlign": "right", "titleBaseline": "alphabetic", "titleAngle": 0}},
            "y": {"field": "y", "type": "quantitative", "scale": {"domain": [0, 2.9], "nice": false, "zero": false}, "axis": {"orient": "left", "values": [1, 2], "ticks": false, "tickSize": 0, "labelPadding": 4, "format": "d", "title": null}},
            "fill": {"field": "sp", "type": "nominal", "scale": {"domain": ["\u03c0\u2070", "p+p\u0304", "\u03b7", "\u03d5", "\u03c9", "K\u209b", "\u03b7'"], "range": ["#ff0000", "#0000ff", "#ffffff", "#000000", "#00c83c", "#cc6464", "#5a5ad2"]}, "legend": null},
            "stroke": {"field": "sp", "type": "nominal", "scale": {"domain": ["\u03c0\u2070", "p+p\u0304", "\u03b7", "\u03d5", "\u03c9", "K\u209b", "\u03b7'"], "range": ["#ff0000", "#0000ff", "#ffc000", "#000000", "#00c83c", "#cc6464", "#5a5ad2"]}, "legend": null},
            "shape": {"field": "sp", "type": "nominal", "scale": {"domain": ["\u03c0\u2070", "p+p\u0304", "\u03b7", "\u03d5", "\u03c9", "K\u209b", "\u03b7'"], "range": ["triangle-down", "triangle-up", "circle", "square", "cross", "circle", "diamond"]}, "legend": null}
          }
        },
        {
          "data": {"name": "bot"},
          "transform": [{"filter": {"field": "sp", "equal": "\u03b7"}}],
          "mark": {"type": "point", "shape": "circle", "size": 95, "strokeWidth": 3.5, "fill": "#ffffff", "stroke": "#ffc000", "opacity": 1, "clip": true},
          "encoding": {
            "x": {"field": "x", "type": "quantitative", "scale": {"domain": [0.07, 16.78], "nice": false, "zero": false}, "axis": null},
            "y": {"field": "y", "type": "quantitative", "scale": {"domain": [0, 2.9], "nice": false, "zero": false}, "axis": null}
          }
        },
        {
          "data": {"values": [{}]},
          "mark": {"type": "text", "text": "60-88%", "fontSize": 27, "align": "right", "baseline": "alphabetic"},
          "encoding": {
            "x": {"datum": 15.84, "type": "quantitative", "axis": null},
            "y": {"datum": 0.315, "type": "quantitative", "axis": null}
          }
        },
        {
          "data": {"values": [{}]},
          "mark": {"type": "text", "text": ["PHENIX Preliminary", "d+Au\u221as = 200 GeV", "|y|<0.35"], "fontSize": 27, "lineHeight": 31, "align": "left", "baseline": "alphabetic"},
          "encoding": {
            "x": {"datum": 0.78, "type": "quantitative", "axis": null},
            "y": {"datum": 2.549, "type": "quantitative", "axis": null}
          }
        }
      ]
    }
  ]
}
